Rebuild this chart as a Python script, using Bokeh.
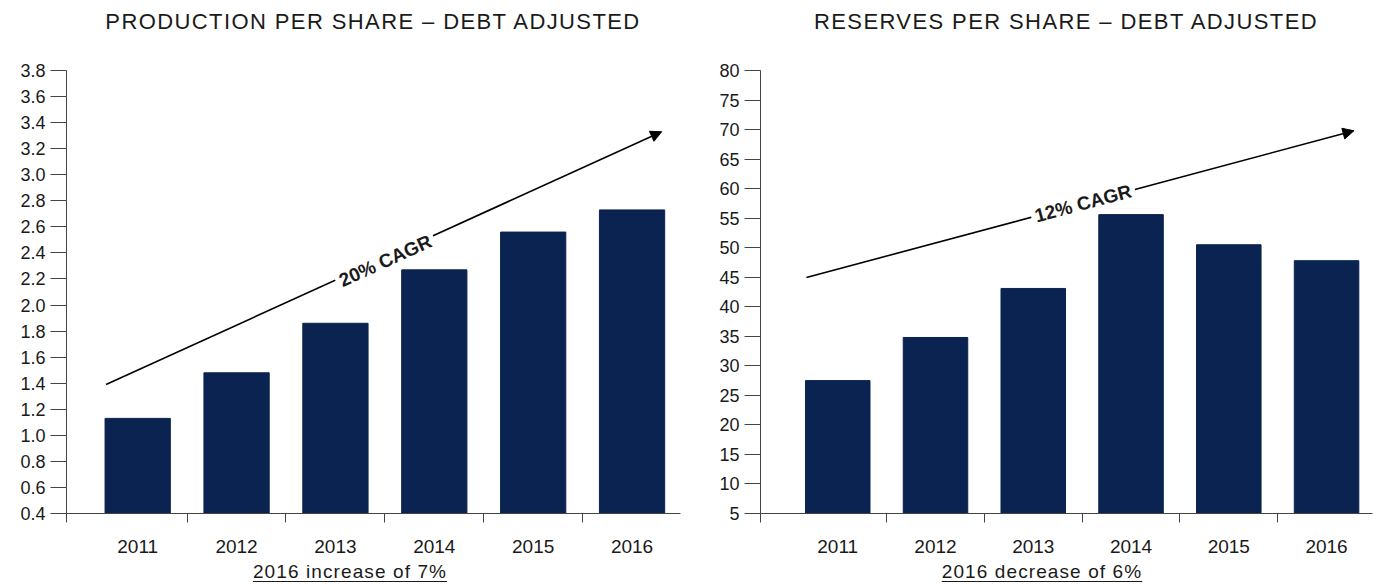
from bokeh.plotting import figure
from bokeh.models import Range1d, FixedTicker, Label, Arrow, NormalHead, Div
from bokeh.layouts import row, column
from bokeh.embed import file_html
from bokeh.resources import INLINE

years = ["2011", "2012", "2013", "2014", "2015", "2016"]
production = [1.13, 1.48, 1.86, 2.27, 2.56, 2.73]
reserves = [27.5, 34.8, 43.1, 55.6, 50.5, 47.8]

titles = ["PRODUCTION PER SHARE \u2013 DEBT ADJUSTED", "RESERVES PER SHARE \u2013 DEBT ADJUSTED"]
subtitles = ["2016 increase of 7%", "2016 decrease of 6%"]
cagr_labels = ["20% CAGR", "12% CAGR"]

prod_ticks = [round(0.4 + 0.2 * i, 1) for i in range(18)]
res_ticks = list(range(5, 81, 5))

BAR = "#0b2350"
TXT = "#1a1a1a"
AX = "#444444"
FONT = "Liberation Sans"


def make(values, yr, yticks, fmt, width, bl, br, xr, title, tshift, sub, sshift,
         arrow, cagr, cpos, cang):
    xs = list(range(len(years)))
    p = figure(width=width, height=515, output_backend="svg", toolbar_location=None,
               x_range=Range1d(*xr), y_range=Range1d(*yr),
               min_border_left=bl, min_border_right=br, min_border_top=27,
               min_border_bottom=45, margin=0)
    p.outline_line_color = None
    p.grid.grid_line_color = None
    p.vbar(x=xs, top=values, width=0.66, bottom=yr[0], color=BAR)

    p.xaxis.ticker = FixedTicker(ticks=xs, minor_ticks=[xr[0]] + [i + 0.5 for i in range(5)])
    p.xaxis.major_label_overrides = {i: y for i, y in enumerate(years)}
    p.xaxis.major_tick_out = 0
    p.xaxis.major_tick_in = 0
    p.xaxis.minor_tick_out = 9
    p.xaxis.minor_tick_in = 0
    p.xaxis.minor_tick_line_color = AX
    p.xaxis.axis_line_color = AX
    p.xaxis.major_label_standoff = 17
    p.xaxis.major_label_text_font = FONT
    p.xaxis.major_label_text_font_size = "19px"
    p.xaxis.major_label_text_color = TXT

    p.yaxis.ticker = FixedTicker(ticks=yticks)
    p.yaxis.major_label_overrides = {t: fmt(t) for t in yticks}
    p.yaxis.major_tick_out = 16
    p.yaxis.major_tick_in = 0
    p.yaxis.minor_tick_line_color = None
    p.yaxis.axis_line_color = AX
    p.yaxis.major_tick_line_color = AX
    p.yaxis.major_label_standoff = 5
    p.yaxis.major_label_text_font = FONT
    p.yaxis.major_label_text_font_size = "18px"
    p.yaxis.major_label_text_color = TXT

    p.add_layout(Arrow(end=NormalHead(size=11, fill_color="black", line_color="black"),
                       x_start=arrow[0], y_start=arrow[1], x_end=arrow[2], y_end=arrow[3],
                       line_color="black", line_width=1.6))
    p.add_layout(Label(x=cpos[0], y=cpos[1], text=cagr, angle=cang, angle_units="deg",
                       text_align="center", text_baseline="middle", text_font=FONT,
                       text_font_size="19px", text_font_style="bold", text_color=TXT,
                       background_fill_color="white", padding=4))

    tdiv = Div(text=(f'<div style="position:relative;left:{tshift}px;width:{width}px;'
                     f'text-align:center;font-family:\'{FONT}\';font-size:22px;'
                     f'letter-spacing:1.4px;line-height:43px;color:{TXT};">{title}</div>'),
               width=width, height=43, margin=0)
    sdiv = Div(text=(f'<div style="position:relative;left:{sshift}px;width:{width}px;'
                     f'text-align:center;font-family:\'{FONT}\';font-size:19px;'
                     f'letter-spacing:1.1px;line-height:27px;color:{TXT};'
                     f'text-decoration:underline;text-underline-offset:3px;">{sub}</div>'),
               width=width, height=27, margin=0)
    return column(tdiv, p, sdiv, spacing=0)


c1 = make(production, (0.4, 3.8), prod_ticks, lambda t: f"{t:.1f}", 700, 66, 20,
          (-0.72, 5.49), titles[0], 23, subtitles[0], 0,
          (-0.32, 1.39, 5.30, 3.33), cagr_labels[0], (2.505, 2.34), 24.4)
c2 = make(reserves, (5, 80), res_ticks, lambda t: f"{t}", 678, 60, 6,
          (-0.79, 5.47), titles[1], 27, subtitles[1], 3,
          (-0.32, 44.95, 5.28, 69.8), cagr_labels[1], (2.51, 57.5), 14.9)

layout = row(c1, c2, spacing=0)
open("out.html", "w").write(file_html(layout, INLINE))
